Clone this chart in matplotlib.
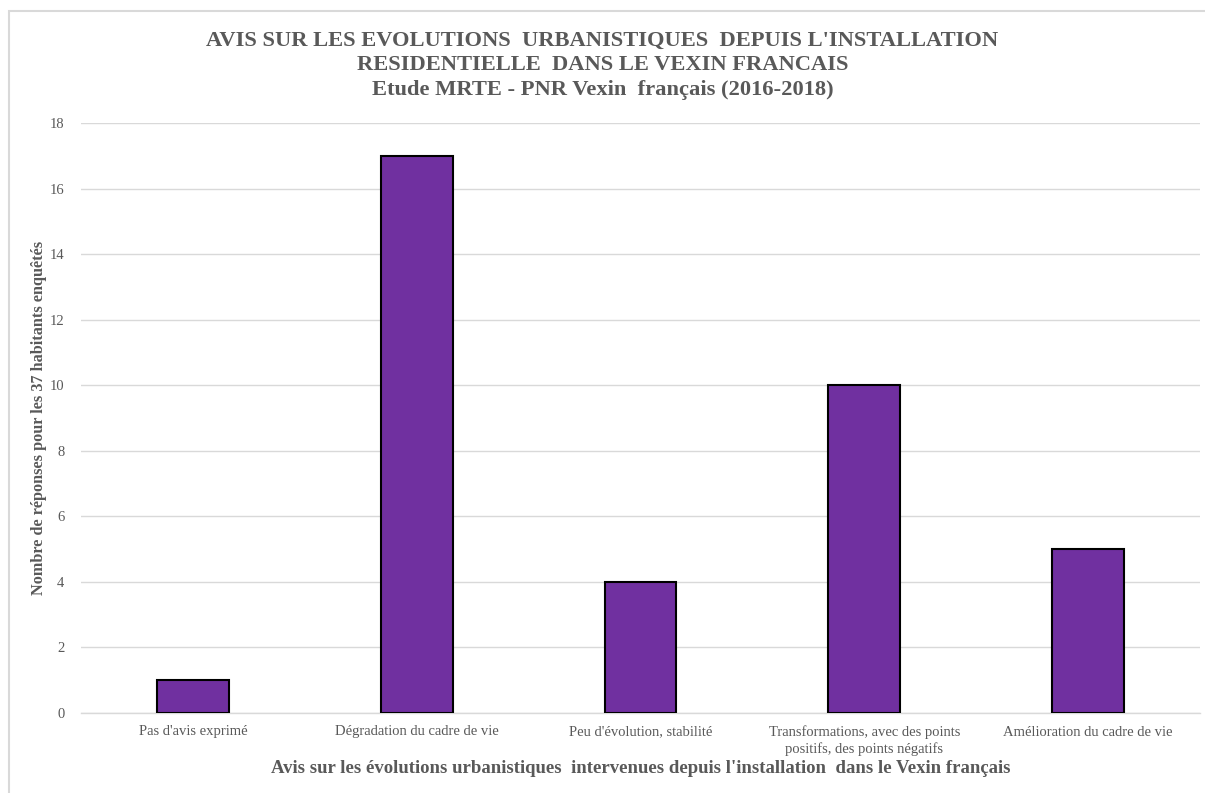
import matplotlib.pyplot as plt
from matplotlib.patches import Rectangle

categories = [
    "Pas d'avis exprimé",
    "Dégradation du cadre de vie",
    "Peu d'évolution, stabilité",
    "Transformations, avec des points\npositifs, des points négatifs",
    "Amélioration du cadre de vie",
]
responses = [1, 17, 4, 10, 5]
y_ticks = [0, 2, 4, 6, 8, 10, 12, 14, 16, 18]

title = ("AVIS SUR LES EVOLUTIONS  URBANISTIQUES  DEPUIS L'INSTALLATION\n"
         "RESIDENTIELLE  DANS LE VEXIN FRANCAIS\n"
         "Etude MRTE - PNR Vexin  français (2016-2018)")
x_label = "Avis sur les évolutions urbanistiques  intervenues depuis l'installation  dans le Vexin français"
y_label = "Nombre de réponses pour les 37 habitants enquêtés"

grey = '#595959'
plt.rcParams['font.family'] = ['Liberation Serif', 'DejaVu Serif']

fig = plt.figure(figsize=(12.05, 7.93), dpi=100)
ax = fig.add_axes([81 / 1205, 1 - 713 / 793, 1119 / 1205, 590 / 793])

x = range(len(categories))
ax.bar(x, responses, width=0.32, color='#7030A0', edgecolor='black', linewidth=1.5, zorder=3)

ax.set_xlim(-0.5, len(categories) - 0.5)
ax.set_ylim(0, 18)
ax.set_yticks(y_ticks)
ax.set_xticks(list(x))
ax.set_xticklabels(categories, fontsize=10.5, color=grey, linespacing=1.3)
ax.tick_params(axis='y', labelsize=10.5, labelcolor=grey, length=0, pad=12)
ax.tick_params(axis='x', length=0, pad=9)
ax.grid(axis='y', color='#d9d9d9', linewidth=1, zorder=0)
for s in ['top', 'right', 'left']:
    ax.spines[s].set_visible(False)
ax.spines['bottom'].set_color('#d9d9d9')
ax.spines['bottom'].set_linewidth(1)

ax.set_xlabel(x_label, fontsize=13.5, fontweight='bold', color=grey, labelpad=3)
ax.set_ylabel(y_label, fontsize=11.7, fontweight='bold', color=grey, labelpad=2)

fig.text(0.5, 1 - 65 / 793, title, ha='center', va='center', fontsize=16.2,
         fontweight='bold', color=grey, linespacing=1.3)

# outer frame of the chart area
fig.patches.append(Rectangle((9 / 1205, -0.1), 1.2, 1 - 11 / 793 + 0.1,
                             transform=fig.transFigure, fill=False,
                             edgecolor='#d9d9d9', linewidth=1.5))

fig.savefig('out.png', dpi=100)
